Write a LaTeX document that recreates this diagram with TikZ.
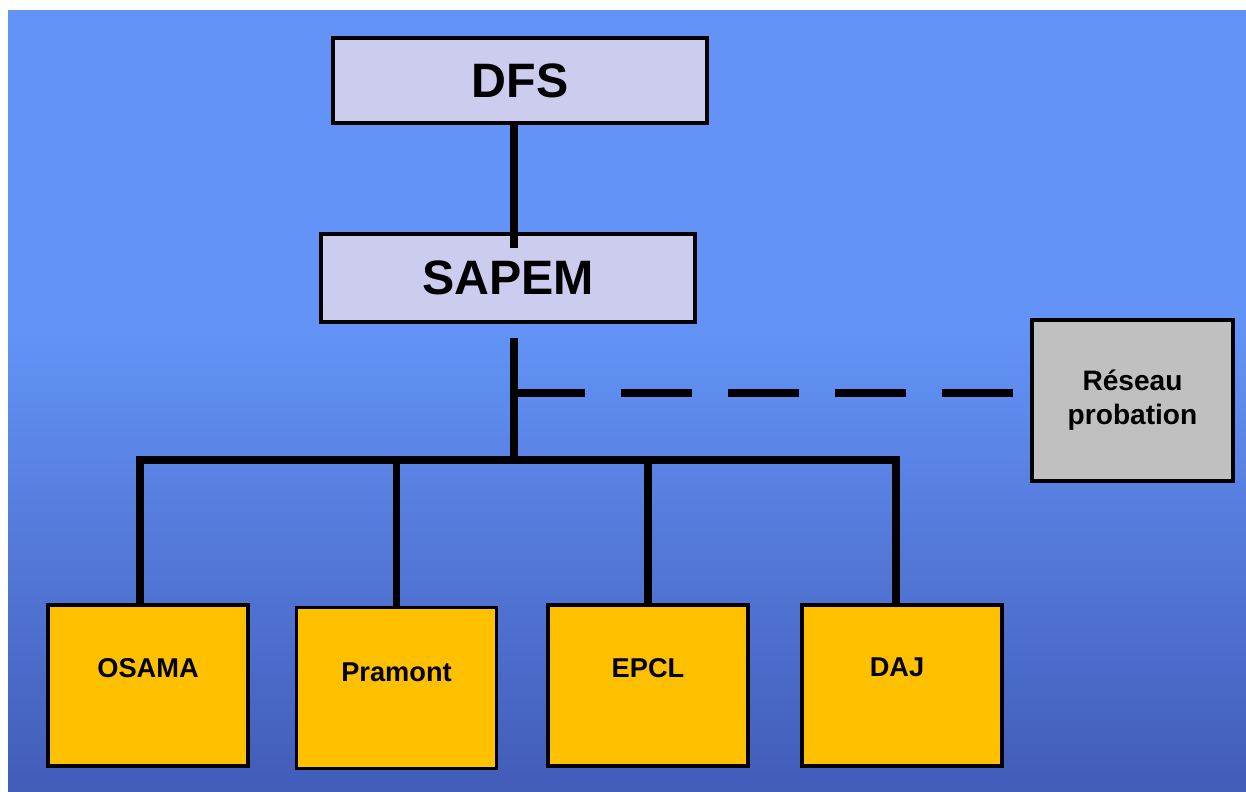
\documentclass[tikz,border=0pt]{standalone}
\usepackage{fontspec}
\setmainfont{Liberation Sans}
\usetikzlibrary{positioning}

\definecolor{bgtop}{RGB}{99,147,247}
\definecolor{bgbot}{RGB}{66,92,184}
\definecolor{lavender}{RGB}{204,204,238}
\definecolor{unitgold}{RGB}{255,192,0}
\definecolor{netgrey}{RGB}{192,192,192}

\tikzset{
  head/.style={draw=black, line width=1.8pt, fill=lavender, minimum width=7.48cm,
    font=\bfseries\fontsize{27.5}{33}\selectfont},
  unitbox/.style={draw=black, line width=2pt, fill=unitgold, minimum width=4cm, minimum height=3.22cm},
  unittext/.style={font=\bfseries\fontsize{15.5}{19}\selectfont, inner sep=0pt},
  netbox/.style={draw=black, line width=2.3pt, fill=netgrey, minimum width=4.02cm, minimum height=3.22cm,
    align=center, font=\bfseries\fontsize{16}{19.3}\selectfont},
  link/.style={draw=black, line width=4.5pt}
}

\begin{document}
\begin{tikzpicture}[x=0.02cm, y=-0.02cm]
    \useasboundingbox (0,0) rectangle (1246,791);
    \fill[white] (0,0) rectangle (1246,791);
    \fill[bgtop] (8,10) rectangle (1246,330);
    \shade[top color=bgtop, bottom color=bgbot] (8,330) rectangle (1246,791);

    \node[head, minimum height=1.70cm] (dfs) at (520,80.5) {DFS};
    \node[head, minimum height=1.76cm] (sapem) at (508,278) {SAPEM};
    \node[netbox] (reseau) at (1132.5,400.5) {Réseau\\probation};

    \node[unitbox] (osama) at (148,685.5) {};
    \node[unitbox] (pramont) at (396.5,688) {};
    \node[unitbox] (epcl) at (648,685.5) {};
    \node[unitbox] (daj) at (902,685.5) {};
    \node[unittext] (osamaT) at ([yshift=0.34cm]osama.center) {OSAMA};
    \node[unittext] (pramontT) at ([yshift=0.32cm]pramont.center) {Pramont};
    \node[unittext] (epclT) at ([yshift=0.34cm]epcl.center) {EPCL};
    \node[unittext] (dajT) at ([xshift=-0.1cm, yshift=0.36cm]daj.center) {DAJ};

    \coordinate (stem) at (514,338);
    \coordinate (tap) at (514,393);
    \coordinate (hub) at (514,460);
    \coordinate (into) at (514,248);

    % links
    \draw[link] (dfs.south -| into) -- (into);
    \draw[link] (stem) -- (hub);
    \draw[link, dash pattern=on 1.42cm off 0.72cm] (tap) -- (tap -| reseau.west);
    \draw[link] ([xshift=-0.16cm]osama.north) |- (hub) -| ([xshift=-0.12cm]daj.north);
    \draw[link] (pramont.north) -- (pramont.north |- hub);
    \draw[link] (epcl.north) -- (epcl.north |- hub);
\end{tikzpicture}
\end{document}
